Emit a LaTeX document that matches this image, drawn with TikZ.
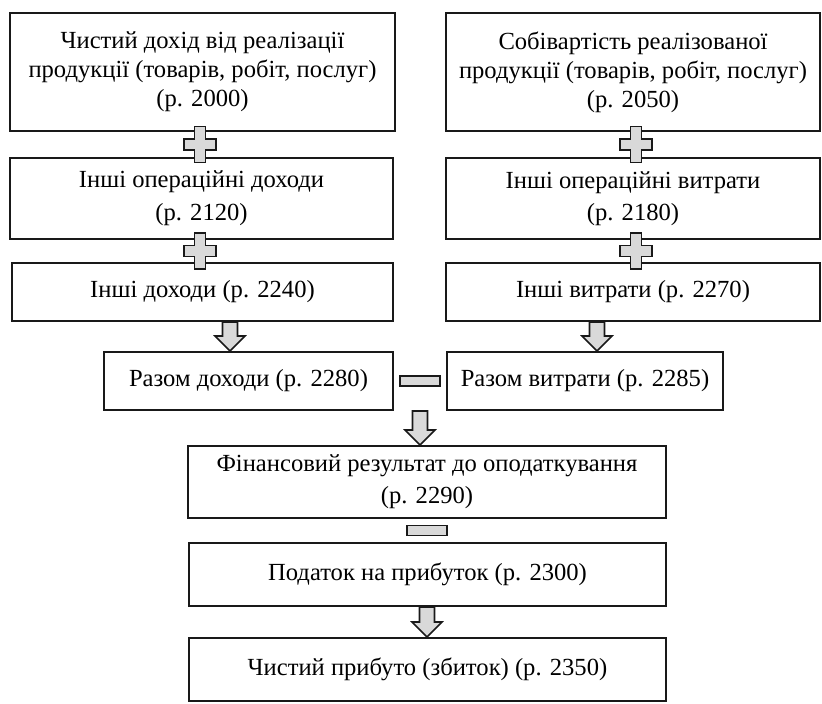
\documentclass[tikz,border=0pt]{standalone}
\usepackage{fontspec}
\setmainfont{Liberation Serif}
\usetikzlibrary{calc}

\tikzset{
  box/.style={draw=black!90, line width=1pt, align=center, inner sep=0pt,
    font=\fontsize{12.3}{14.5}\selectfont},
  blkarr/.style={draw=black!90, line width=0.8pt, fill=black!15, line join=miter},
}

% block arrow: x, upper node, lower node
\newcommand{\blkdown}[3]{%
  \path (#2.south -| #1,0) coordinate (t) (#3.north -| #1,0) coordinate (b);
  \draw[blkarr] ($(t)+(-7.5,0)$) -- ($(b)+(-7.5,-15)$) -- ($(b)+(-15,-15)$) -- (b)
    -- ($(b)+(15,-15)$) -- ($(b)+(7.5,-15)$) -- ($(t)+(7.5,0)$) -- cycle;}
% plus sign: x, upper node, lower node
\newcommand{\plusblk}[3]{%
  \path (#2.south -| #1,0) coordinate (t) (#3.north -| #1,0) coordinate (b);
  \path ($(t)!0.5!(b)$) coordinate (c);
  \draw[blkarr, shift={(c)}] (-5.5,-18) -- (5.5,-18) -- (5.5,-5.5) -- (16,-5.5)
    -- (16,5.5) -- (5.5,5.5) -- (5.5,18) -- (-5.5,18) -- (-5.5,5.5) -- (-16,5.5)
    -- (-16,-5.5) -- (-5.5,-5.5) -- cycle;}
% minus sign halfway between two anchors
\newcommand{\minusblk}[2]{%
  \path ($(#1)!0.5!(#2)$) coordinate (m);
  \draw[blkarr] ($(m)+(-20,-5)$) rectangle ($(m)+(20,5)$);}

\begin{document}
\begin{tikzpicture}[x=0.5pt, y=-0.5pt]
  \useasboundingbox (0,0) rectangle (822,704);

  \node[box, minimum width=192.5pt, minimum height=59pt] (inc) at (202.5,72)
    {Чистий дохід від реалізації\\продукції (товарів, робіт, послуг)\\(р. 2000)};
  \node[box, minimum width=187pt, minimum height=59pt] (cost) at (633,72)
    {Собівартість реалізованої\\продукції (товарів, робіт, послуг)\\(р. 2050)};
  \node[box, minimum width=191.5pt, minimum height=40.5pt,
    font=\fontsize{12.3}{16.5}\selectfont] (opinc) at (201.5,198.5)
    {Інші операційні доходи\\(р. 2120)};
  \node[box, minimum width=187pt, minimum height=40.5pt,
    font=\fontsize{12.3}{16}\selectfont] (opcost) at (633,198.5)
    {Інші операційні витрати\\(р. 2180)};
  \node[box, minimum width=190.5pt, minimum height=29pt] (othinc) at (202.5,292)
    {Інші доходи (р. 2240)};
  \node[box, minimum width=187pt, minimum height=29pt] (othcost) at (633,292)
    {Інші витрати (р. 2270)};
  \node[box, minimum width=144.5pt, minimum height=29pt] (suminc) at (248.5,381)
    {Разом доходи (р. 2280)};
  \node[box, minimum width=138pt, minimum height=29pt] (sumcost) at (585,381)
    {Разом витрати (р. 2285)};
  \node[box, minimum width=239pt, minimum height=36pt,
    font=\fontsize{12.3}{16}\selectfont] (finres) at (427,482)
    {Фінансовий результат до оподаткування\\(р. 2290)};
  \node[box, minimum width=238.5pt, minimum height=31.5pt] (tax) at (427.5,574.5)
    {Податок на прибуток (р. 2300)};
  \node[box, minimum width=238.5pt, minimum height=31.5pt] (netres) at (427.5,669.5)
    {Чистий прибуто (збиток) (р. 2350)};

  \plusblk{200}{inc}{opinc}
  \plusblk{636}{cost}{opcost}
  \plusblk{200}{opinc}{othinc}
  \plusblk{636}{opcost}{othcost}

  \blkdown{230}{othinc}{suminc}
  \blkdown{597}{othcost}{sumcost}
  \minusblk{suminc.east}{sumcost.west}
  \blkdown{420}{suminc}{finres}
  \minusblk{finres.south}{tax.north}
  \blkdown{427}{tax}{netres}
\end{tikzpicture}
\end{document}
